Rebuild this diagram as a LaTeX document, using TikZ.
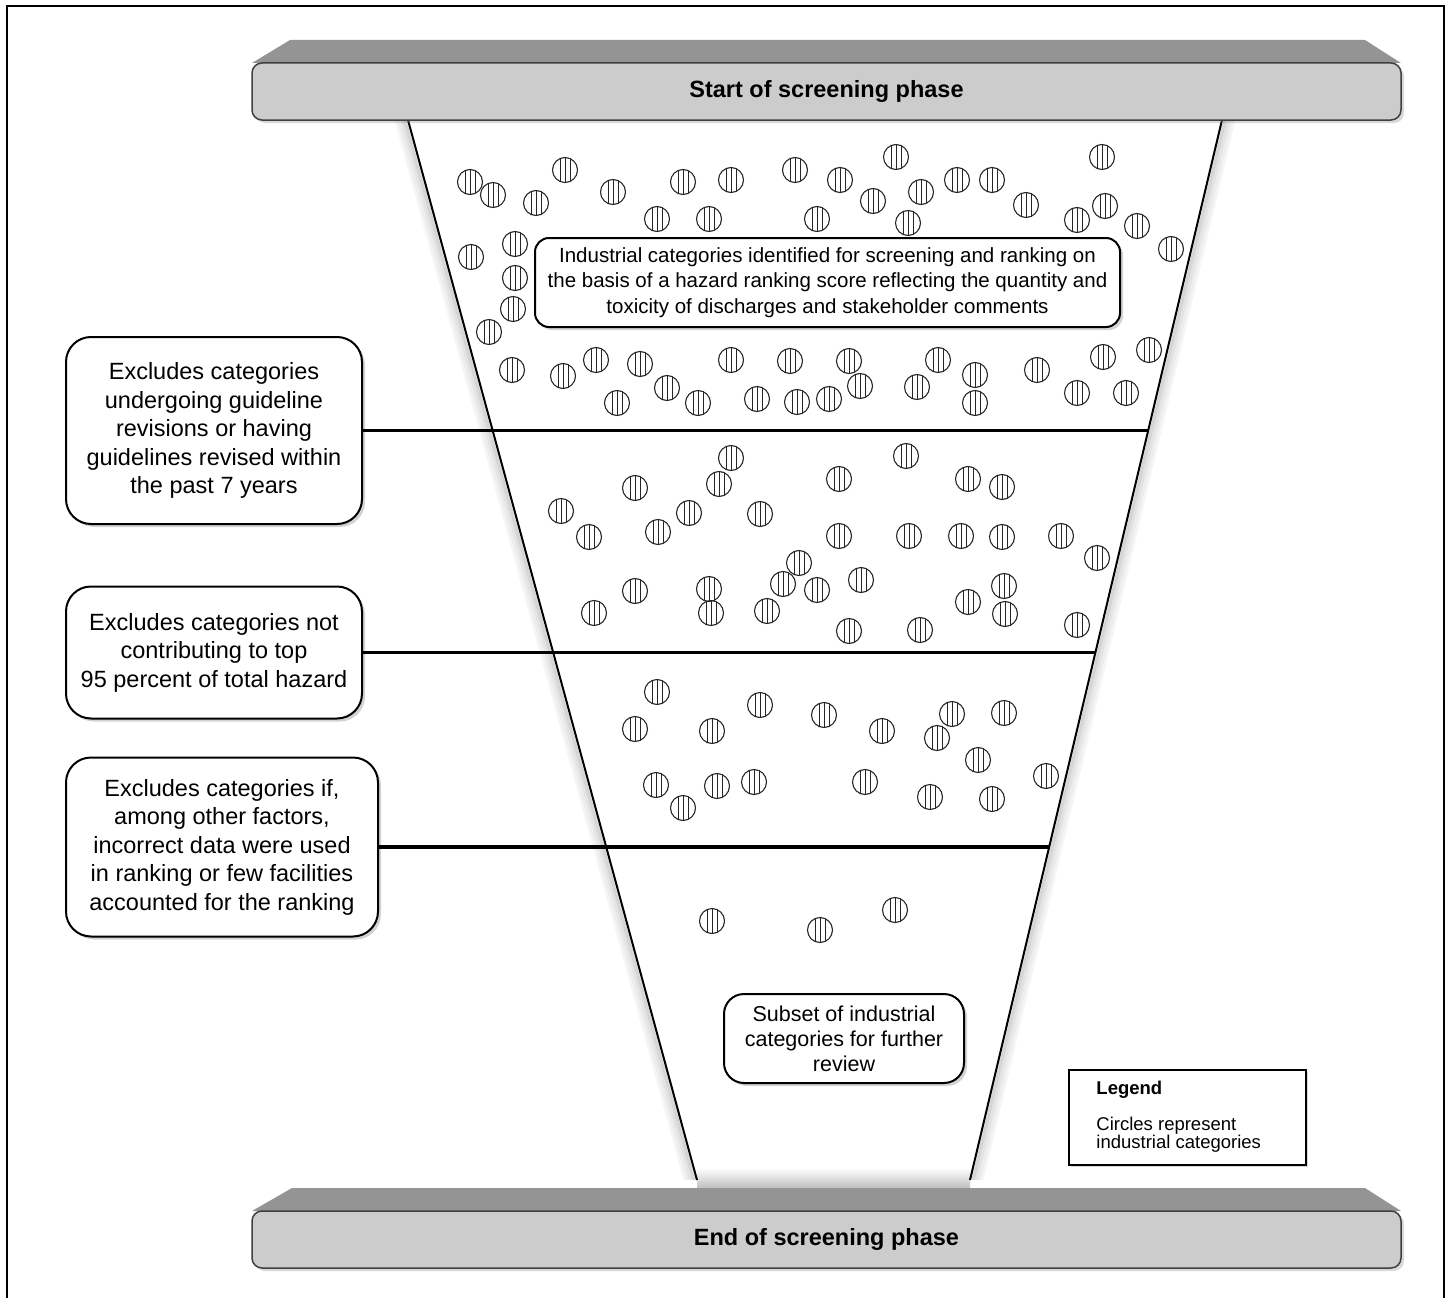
\documentclass[tikz,border=0pt]{standalone}
\usepackage{fontspec}
\setmainfont{Liberation Sans}
\usetikzlibrary{positioning,calc,shadows}

\begin{document}
\begin{tikzpicture}[
x=1pt,y=-1pt,
filtro/.style={
draw,
line width=2pt,
rounded corners=25pt,
fill=white,
align=center,
inner sep=0pt,
minimum width=296pt,
font=\fontsize{23.5}{28.5}\selectfont,
drop shadow={shadow xshift=3pt,shadow yshift=-3pt,opacity=0.35}
},
nota/.style={filtro,rounded corners=14pt,font=\fontsize{20.5}{25.5}\selectfont},
barra/.style={
draw=black!75,
line width=1.5pt,
rounded corners=10pt,
fill=black!20,
minimum width=1149pt,
minimum height=57pt,
font=\bfseries\fontsize{23.5}{28}\selectfont,
drop shadow={shadow xshift=3pt,shadow yshift=-3pt,opacity=0.3}
},
topo/.style={fill=black!42},
categ/.style={
circle,
draw=black!85,
line width=1.1pt,
minimum size=25pt,
inner sep=0pt,
path picture={
\foreach \dx in {-5,0,5}
\draw[line width=0.7pt] ([xshift=\dx pt]path picture bounding box.north)
-- ([xshift=\dx pt]path picture bounding box.south);
}
},
corte/.style={line width=3.5pt},
borda/.style={line width=2pt}
]

\useasboundingbox (0,0) rectangle (1452,1298);

% moldura
\draw[line width=2pt] (7,1298) -- (7,6) -- (1444,6) -- (1444,1298);

% funil
\coordinate (ftl) at (408,120);
\coordinate (fbl) at (697,1180);
\coordinate (ftr) at (1222,120);
\coordinate (fbr) at (970,1180);

\foreach \s/\o in {3/0.16,6/0.11,9/0.07,12/0.04}{
\draw[line width=3pt,opacity=\o] ($(ftl)+(-\s,0)$) -- ($(fbl)+(-\s,0)$);
\draw[line width=3pt,opacity=\o] ($(ftr)+(\s,0)$) -- ($(fbr)+(\s,0)$);
}
\shade[top color=white,bottom color=black!25] (697,1168) rectangle (970,1188);
\draw[borda] (ftl) -- (fbl);
\draw[borda] (ftr) -- (fbr);

% barras
\fill[topo] (290,40) -- (1365,40) -- (1401,63) -- (252,63) -- cycle;
\node[barra] (inicio) at (826.5,91.5) {Start of screening phase};

\fill[topo] (292,1188) -- (1365,1188) -- (1401,1211) -- (252,1211) -- cycle;
\node[barra] (fim) at (826.5,1239.5) {End of screening phase};

% categorias
\foreach \x/\y [count=\i] in {
470/182,493/195,536/203,565/170,613/192,657/219,683/182,709/219,731/180,
795/170,840/180,873/201,817/219,896/157,921/192,908/223,957/180,992/180,
1026/205,1102/157,1077/220,1105/206,1137/226,1171/249,
471/257,515/244,515/278,513/309,489/332,
512/370,563/376,596/360,640/364,617/403,667/388,698/403,731/360,757/399,
790/361,797/402,829/399,849/361,860/386,917/387,938/360,975/375,975/403,
1037/370,1077/393,1103/357,1126/393,1149/350,
731/458,719/484,635/488,561/511,589/537,658/532,689/513,760/514,839/479,
906/456,968/479,1002/487,839/536,909/536,961/536,1002/537,1061/536,
1097/558,799/563,783/584,817/590,861/580,709/589,711/613,635/591,594/613,
767/611,849/631,920/630,968/602,1004/586,1005/614,1077/625,
657/692,635/729,712/731,760/705,824/715,882/731,952/714,937/738,1004/713,
978/760,1046/776,656/785,683/808,717/786,754/782,865/782,930/797,992/799,
712/921,820/930,895/910}
\node[categ] (c\i) at (\x,\y) {};

% caixas
\node[nota,minimum width=585pt,minimum height=89pt] (entrada) at (827.5,282.5)
{Industrial categories identified for screening and ranking on\\
the basis of a hazard ranking score reflecting the quantity and\\
toxicity of discharges and stakeholder comments};

\node[filtro,minimum height=187pt] (ex1) at (214,430.5)
{Excludes categories\\undergoing guideline\\revisions or having\\
guidelines revised within\\the past 7 years};

\node[filtro,minimum height=132pt] (ex2) at (214,652.5)
{Excludes categories not\\contributing to top\\95 percent of total hazard};

\node[filtro,minimum width=312pt,minimum height=179pt] (ex3) at (222,847)
{Excludes categories if,\\among other factors,\\incorrect data were used\\
in ranking or few facilities\\accounted for the ranking};

\node[nota,rounded corners=20pt,minimum width=240pt,minimum height=89pt,
font=\fontsize{21.5}{25}\selectfont] (saida) at (844,1038.5)
{Subset of industrial\\categories for further\\review};

% cortes
\coordinate (s1) at (1148,430);
\coordinate (s2) at (1096,653);
\coordinate (s3) at (1049,846);
\draw[corte] (ex1.east) -- (ex1.east -| s1);
\draw[corte] (ex2.east) -- (ex2.east -| s2);
\draw[corte] (ex3.east) -- (ex3.east -| s3);

% legenda
\node[draw,line width=1.5pt,fill=white,minimum width=237pt,minimum height=95pt,
drop shadow={shadow xshift=2pt,shadow yshift=-2pt,opacity=0.3}] (legenda) at (1187.5,1117.5) {};
\node[below right=12pt and 28pt of legenda.north west,inner sep=0pt,align=left,
font=\fontsize{18.5}{17}\selectfont] (legtxt)
{\textbf{Legend}\\[17pt]Circles represent\\industrial categories};

\end{tikzpicture}
\end{document}
